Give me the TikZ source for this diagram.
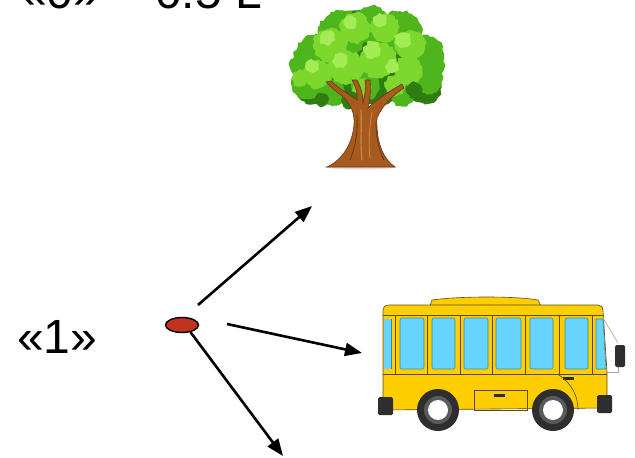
\documentclass[tikz,border=0pt]{standalone}
\usepackage{fontspec}
\setmainfont{Liberation Sans}
\usetikzlibrary{arrows.meta,shapes.geometric,decorations.pathmorphing}

\definecolor{dotred}{HTML}{C0341F}
\definecolor{leafdark}{HTML}{2F7D12}
\definecolor{leafmid}{HTML}{4FB51C}
\definecolor{leaflight}{HTML}{7DD82E}
\definecolor{leafhi}{HTML}{A4EC55}
\definecolor{barkmain}{HTML}{A65A1E}
\definecolor{barkdark}{HTML}{6E3510}
\definecolor{barklight}{HTML}{CF8A3E}
\definecolor{busyellow}{HTML}{FFCE00}
\definecolor{busline}{HTML}{5A4A10}
\definecolor{glass}{HTML}{66D4FF}
\definecolor{glassedge}{HTML}{3C86A8}
\definecolor{tyre}{HTML}{2E2E2E}
\definecolor{rim}{HTML}{5A5A5A}

\tikzset{
  label text/.style={font=\fontsize{48}{48}\selectfont, inner sep=0pt, anchor=base west},
  pointer/.style={line width=2.6pt, -{Triangle[length=17pt,width=13pt]}},
  leaf/.style={decorate, decoration={random steps, segment length=3pt, amplitude=1.4pt}},
  pane/.style={fill=glass, draw=glassedge, line width=0.6pt, rounded corners=2pt},
  busedge/.style={draw=busline, line width=0.6pt},
}

\begin{document}
\begin{tikzpicture}[x=1pt, y=-1pt]
\useasboundingbox (0,0) rectangle (635,458);
\clip (0,0) rectangle (635,458);

% ---- captions ----
\node[label text] (zero) at (20,8.5) {«0» –};
\node[label text] (half) at (155,8.5) {0.5 L};
\node[label text] (one) at (17,353) {«1»};

% ---- tree: foliage ----
\pgfmathsetseed{7}
\begin{scope}
  \foreach \x/\y/\r in {330/72/30, 370/68/36, 410/70/30, 360/45/35, 312/88/16, 425/88/16}
    \fill[leafdark, leaf] (\x,\y) circle (\r);
  \foreach \x/\y/\r in {318/58/24, 342/34/24, 372/24/18, 400/33/22, 424/55/20, 427/78/16,
                        306/84/15, 332/93/13, 402/94/12, 365/86/14, 300/66/10, 436/66/9}
    \fill[leafmid, leaf] (\x,\y) circle (\r);
  \foreach \x/\y/\r in {330/45/17, 355/28/15, 385/28/14, 410/45/15, 318/74/14, 346/68/17,
                        378/60/18, 408/70/14, 300/78/8, 362/88/9, 395/86/10}
    \fill[leaflight, leaf] (\x,\y) circle (\r);
  \foreach \x/\y/\r in {327/38/7, 350/22/6, 380/20/6, 340/60/7, 372/50/8, 403/40/7, 312/66/6, 392/66/6}
    \fill[leafhi, leaf] (\x,\y) circle (\r);
  \foreach \x/\y/\r in {350/100/9, 414/90/8, 384/98/7, 322/100/6}
    \fill[leafdark, leaf] (\x,\y) circle (\r);
\end{scope}

% ---- tree: trunk ----
\fill[gray!25] (360,167) ellipse (36 and 2.5);
\filldraw[fill=barkmain, draw=barkdark, line width=0.6pt]
  (327,167) .. controls (342,160) and (352,145) .. (354,125)
  .. controls (355,112) and (350,103) .. (342,96)
  .. controls (336,91) and (330,87) .. (326,82)
  -- (331,81)
  .. controls (338,88) and (350,95) .. (357,100)
  .. controls (358,93) and (356,87) .. (352,80)
  -- (357,80)
  .. controls (361,87) and (363,95) .. (363,103)
  .. controls (365,95) and (366,88) .. (365,80)
  -- (370,80)
  .. controls (371,90) and (370,100) .. (368,108)
  .. controls (376,100) and (388,92) .. (402,84)
  -- (404,88)
  .. controls (392,96) and (382,106) .. (377,118)
  .. controls (376,140) and (382,158) .. (395,167)
  -- cycle;
\draw[barklight, line width=1.2pt, line cap=round]
  (362,160) .. controls (360,140) and (362,125) .. (361,110);
\draw[barklight, line width=0.8pt, line cap=round]
  (370,158) .. controls (368,140) and (370,125) .. (372,112);
\draw[barkdark, line width=0.8pt, line cap=round]
  (350,160) .. controls (356,145) and (358,130) .. (357,115);
\draw[barkdark, line width=0.8pt, line cap=round]
  (384,160) .. controls (378,148) and (376,135) .. (376,122);

% ---- bus ----
% roof bump
\filldraw[fill=busyellow, busedge]
  (430,306) -- (432,300) .. controls (460,296) and (515,296) .. (538,300) -- (541,306) -- cycle;
% body
\filldraw[fill=busyellow, busedge]
  (383,311) .. controls (383,307) and (385,305) .. (389,305)
  -- (598,305) .. controls (601,305) and (603,307) .. (603,311)
  -- (607,372) -- (607,408) -- (383,410) -- cycle;
% window band lines
\draw[busedge] (383,315) -- (603,315);
\draw[busedge] (383,374) -- (607,374);
\foreach \x in {395,427,460,492,525,559,592}
  \draw[busedge] (\x,315) -- (\x,374);
% windows
\foreach \a/\b in {400/424, 432/455, 464/488, 496/521, 530/553, 565/588}
  \draw[pane] (\a,318) rectangle (\b,369);
\fill[glass] (383.5,319) rectangle (391,369);
\draw[glassedge, line width=0.6pt] (391,319) -- (391,369);
\filldraw[fill=glass, draw=glassedge, line width=0.6pt]
  (596,319) -- (603,319) -- (606,369) -- (596,369) -- cycle;
% luggage door and handles
\draw[busedge] (474,390) rectangle (527,410);
\fill[tyre] (494,394) rectangle (505,396.5);
\fill[tyre] (563,377) rectangle (574,380);
% front wheel arch
\draw[busedge] (559,375) .. controls (572,384) and (578,396) .. (578,410);
% mirror
\draw[gray!70, line width=0.6pt] (603,318) -- (618,343);
\draw[gray!70, line width=0.6pt] (607,372) -- (618,372) -- (618,366);
\fill[tyre, rounded corners=1.5pt] (615,345) rectangle (625,367);
% bumpers
\fill[tyre, rounded corners=1.5pt] (378,397) rectangle (393,415);
\fill[tyre, rounded corners=1.5pt] (597,395) rectangle (612,413);
% wheels
\foreach \cx in {438,553} {
  \fill[tyre] (\cx,410) circle (21);
  \fill[rim] (\cx,410) circle (14);
  \fill[white] (\cx,410) circle (10);
}

% ---- point and arrows ----
\node[ellipse, draw=black, line width=1.4pt, fill=dotred,
      minimum width=33pt, minimum height=15pt, inner sep=0pt] (dot) at (182,325) {};
\coordinate (s1) at (198,305);
\coordinate (e1) at (312,206);
\coordinate (s2) at (227,324);
\coordinate (e2) at (362,353);
\coordinate (e3) at (283,456);
\draw[pointer] (s1) -- (e1);
\draw[pointer] (s2) -- (e2);
\draw[pointer] (dot.-40) -- (e3);
\end{tikzpicture}
\end{document}
